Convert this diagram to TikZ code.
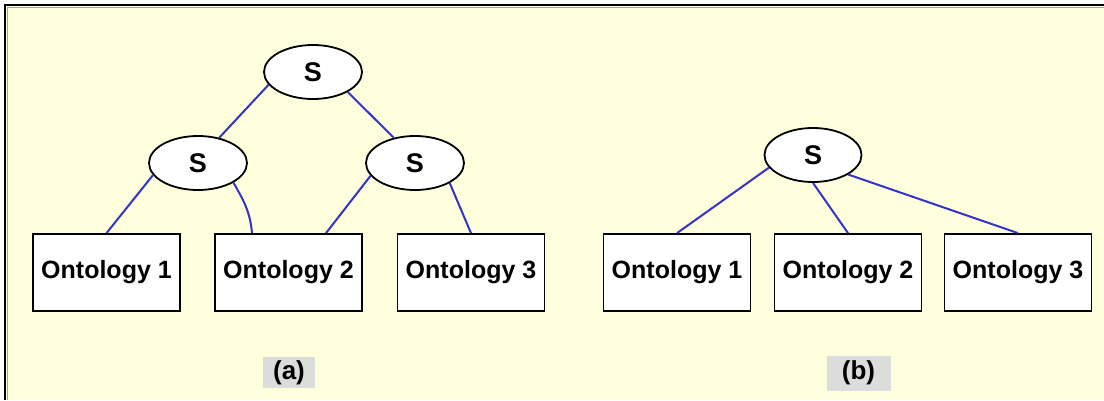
\documentclass[tikz,border=0pt]{standalone}
\usepackage{fontspec}
\setmainfont{Liberation Sans}
\usetikzlibrary{shapes.geometric}
\definecolor{bgyellow}{RGB}{255,255,221}
\definecolor{linkblue}{RGB}{51,51,204}
\definecolor{labgray}{RGB}{220,220,220}
\begin{document}
\begin{tikzpicture}[x=1pt,y=-1pt,
  snode/.style={ellipse,draw=black,line width=1.8pt,fill=white,minimum width=98pt,minimum height=54pt,inner sep=0pt,font=\fontsize{27}{30}\selectfont\bfseries},
  onto/.style={rectangle,draw=black,line width=1.8pt,fill=white,minimum width=147pt,minimum height=77pt,inner sep=0pt,font=\fontsize{25}{28}\selectfont\bfseries},
  caplab/.style={rectangle,fill=labgray,inner sep=0pt,font=\fontsize{26}{29}\selectfont\bfseries},
  conn/.style={draw=linkblue,line width=2pt}]
\useasboundingbox (0,0) rectangle (1104,400);
\fill[white] (0,0) rectangle (1104,400);
\fill[bgyellow] (6,6) rectangle (1104,400);
\draw[gray!70,line width=1pt] (7,7) -- (1104,7);
\draw[gray!70,line width=1pt] (7,7) -- (7,400);
\draw[black,line width=2pt] (5,400) -- (5,5) -- (1104,5);
% (a)
\node[snode] (tS) at (313,72) {S};
\node[snode] (lS) at (198,163) {S};
\node[snode] (rS) at (415,163) {S};
\node[onto] (o1a) at (106.5,272.5) {Ontology 1};
\node[onto] (o2a) at (288.5,272.5) {Ontology 2};
\node[onto] (o3a) at (471,272.5) {Ontology 3};
\node[caplab,minimum width=52pt,minimum height=31pt] (la) at (289,372.5) {(a)};
\coordinate (o2aL) at ([xshift=-36.5pt]o2a.north);
\coordinate (o2aR) at ([xshift=37.5pt]o2a.north);
\path[conn] (tS.196) -- (lS.50);
\path[conn] (tS.-30) -- (rS.130);
\path[conn] (lS.195) -- (o1a.north);
\path[conn] (lS.-29) to[out=-60,in=95] (o2aL);
\path[conn] (rS.196) -- (o2aR);
\path[conn] (rS.-30) -- (o3a.north);
% (b)
\node[snode,minimum width=97pt] (bS) at (813,155) {S};
\node[onto] (o1b) at (677,272.5) {Ontology 1};
\node[onto] (o2b) at (848,272.5) {Ontology 2};
\node[onto] (o3b) at (1018,272.5) {Ontology 3};
\node[caplab,minimum width=64pt,minimum height=35pt] (lb) at (858.5,373) {(b)};
\path[conn] (bS.196) -- (o1b.north);
\path[conn] (bS.-90) -- (o2b.north);
\path[conn] (bS.-29) -- (o3b.north);
\end{tikzpicture}
\end{document}
